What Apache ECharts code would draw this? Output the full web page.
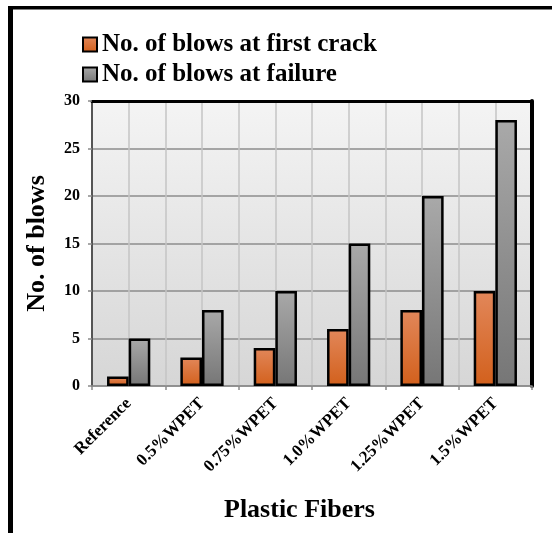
<!DOCTYPE html>
<html>
<head>
<meta charset="utf-8">
<script src="https://cdn.jsdelivr.net/npm/echarts@6/dist/echarts.min.js"></script>
<style>html,body{margin:0;padding:0;background:#fff;}#c{width:552px;height:533px;}</style>
</head>
<body>
<div id="c"></div>
<script>
var categories = ['Reference', '0.5%WPET', '0.75%WPET', '1.0%WPET', '1.25%WPET', '1.5%WPET'];
var firstCrack = [1, 3, 4, 6, 8, 10];
var failure = [5, 8, 10, 15, 20, 28];
var seriesNames = ['No. of blows at first crack', 'No. of blows at failure'];
var yTicks = [0, 5, 10, 15, 20, 25, 30];

var FONT = '"Liberation Serif", "Times New Roman", serif';
var chart = echarts.init(document.getElementById('c'), null, {renderer: 'canvas'});

function grad(top, bottom) {
  return new echarts.graphic.LinearGradient(0, 0, 0, 1, [
    {offset: 0, color: top}, {offset: 1, color: bottom}
  ]);
}

chart.setOption({
  animation: false,
  backgroundColor: '#ffffff',
  textStyle: {fontFamily: FONT},
  legend: {
    orient: 'vertical',
    left: 82,
    top: 32,
    padding: 0,
    itemWidth: 14,
    itemHeight: 14,
    itemGap: 5,
    icon: 'rect',
    textStyle: {fontFamily: FONT, fontWeight: 'bold', fontSize: 25, color: '#000'},
    data: seriesNames
  },
  grid: {
    left: 92, top: 101, right: 20, bottom: 147,
    show: true,
    borderWidth: 0,
    backgroundColor: grad('#f4f4f4', '#d6d6d6')
  },
  xAxis: [{
    type: 'category',
    data: categories,
    position: 'bottom',
    axisLine: {show: true, lineStyle: {color: '#8a8a8a', width: 1.5}},
    axisTick: {show: true, alignWithLabel: false, length: 4, lineStyle: {color: '#8a8a8a', width: 1.5}},
    axisLabel: {rotate: 45, margin: 15, fontFamily: FONT, fontWeight: 'bold', fontSize: 17, color: '#000', interval: 0},
    splitLine: {show: false}
  }, {
    type: 'value',
    position: 'top',
    min: 0, max: 12, interval: 1,
    axisLine: {show: true, onZero: false, lineStyle: {color: '#000', width: 3}},
    axisTick: {show: false},
    axisLabel: {show: false},
    splitLine: {show: true, lineStyle: {color: '#c4c4c4', width: 1.5}}
  }],
  yAxis: [{
    type: 'value',
    min: 0, max: 30, interval: 5,
    name: 'No. of blows',
    nameLocation: 'middle',
    nameGap: 42,
    nameTextStyle: {fontFamily: FONT, fontWeight: 'bold', fontSize: 26, color: '#000'},
    axisLine: {show: true, lineStyle: {color: '#555', width: 2}},
    axisTick: {show: true, length: 4, lineStyle: {color: '#8a8a8a', width: 1.5}},
    axisLabel: {fontFamily: FONT, fontWeight: 'bold', fontSize: 16, color: '#000', margin: 12},
    splitLine: {show: true, lineStyle: {color: '#8c8c8c', width: 1.5}}
  }, {
    type: 'value',
    position: 'right',
    min: 0, max: 30, interval: 5,
    axisLine: {show: true, lineStyle: {color: '#000', width: 4}},
    axisTick: {show: false},
    axisLabel: {show: false},
    splitLine: {show: false}
  }],
  series: [{
    name: seriesNames[0],
    type: 'bar',
    xAxisIndex: 0, yAxisIndex: 0,
    data: firstCrack,
    barGap: '0%',
    barCategoryGap: '41%',
    itemStyle: {color: grad('#e2875a', '#d2601c'), borderColor: '#000', borderWidth: 2.5}
  }, {
    name: seriesNames[1],
    type: 'bar',
    xAxisIndex: 0, yAxisIndex: 0,
    data: failure,
    barGap: '0%',
    barCategoryGap: '41%',
    itemStyle: {color: grad('#a9a9a9', '#767676'), borderColor: '#000', borderWidth: 2.5}
  }],
  graphic: [
    {type: 'rect', shape: {x: 8, y: 6, width: 5, height: 540}, style: {fill: '#000'}, silent: true},
    {type: 'rect', shape: {x: 8, y: 6, width: 560, height: 3.5}, style: {fill: '#000'}, silent: true},
    {type: 'text', left: 224, top: 497, style: {text: 'Plastic Fibers', font: 'bold 26px ' + FONT, fill: '#000'}}
  ]
});
</script>
</body>
</html>
